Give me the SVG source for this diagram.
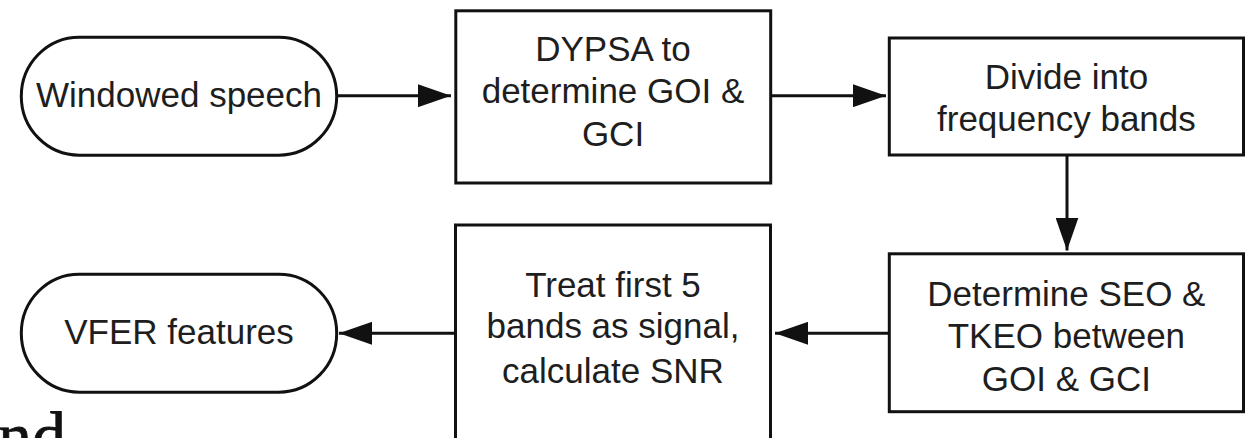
<svg xmlns="http://www.w3.org/2000/svg" width="1250" height="438" viewBox="0 0 1250 438">
  <defs>
    <style>
      .shape { fill: #ffffff; stroke: #111111; stroke-width: 3; }
      .label { font-family: "Liberation Sans", Arial, sans-serif; font-size: 35px; fill: #1e1e1e; text-anchor: middle; }
      .edge { fill: none; stroke: #111111; stroke-width: 3; marker-end: url(#head); }
      .stray { font-family: "Liberation Serif", "Times New Roman", serif; font-size: 68px; fill: #111111; stroke: #111111; stroke-width: 0.8; }
    </style>
    <marker id="head" markerUnits="userSpaceOnUse" markerWidth="34" markerHeight="23" refX="33" refY="11.5" orient="auto">
      <path d="M0,0 L33,11.5 L0,23 Z" fill="#111111"/>
    </marker>
  </defs>

  <rect width="1250" height="438" fill="#ffffff"/>

  <!-- connectors -->
  <g id="connectors">
    <line class="edge" x1="336.7" y1="95.7" x2="451" y2="95.7"/>
    <line class="edge" x1="770.7" y1="95.7" x2="886" y2="95.7"/>
    <line class="edge" x1="1067" y1="155" x2="1067" y2="250.5"/>
    <line class="edge" x1="889.3" y1="333.3" x2="775" y2="333.3"/>
    <line class="edge" x1="455.5" y1="333.3" x2="339" y2="333.3"/>
  </g>

  <!-- start terminal -->
  <g id="windowed-speech">
    <rect class="shape" x="21.3" y="37.2" width="315.4" height="118" rx="58" ry="59"/>
    <text class="label" x="179" y="107">Windowed speech</text>
  </g>

  <!-- glottal instant detection -->
  <g id="dypsa">
    <rect class="shape" x="455.8" y="10.8" width="314.9" height="172.2"/>
    <text class="label" x="613" y="61">DYPSA to</text>
    <text class="label" x="613" y="103">determine GOI &amp;</text>
    <text class="label" x="613" y="145.5">GCI</text>
  </g>

  <!-- filter bank -->
  <g id="divide-bands">
    <rect class="shape" x="889.3" y="38" width="354.2" height="117"/>
    <text class="label" x="1066.4" y="89">Divide into</text>
    <text class="label" x="1066.4" y="131">frequency bands</text>
  </g>

  <!-- energy operators -->
  <g id="seo-tkeo">
    <rect class="shape" x="889.3" y="253.8" width="354.2" height="157.9"/>
    <text class="label" x="1066.4" y="306">Determine SEO &amp;</text>
    <text class="label" x="1066.4" y="348.3">TKEO between</text>
    <text class="label" x="1066.4" y="391">GOI &amp; GCI</text>
  </g>

  <!-- SNR computation -->
  <g id="snr">
    <rect class="shape" x="455.5" y="225" width="315" height="240"/>
    <text class="label" x="613" y="297.3">Treat first 5</text>
    <text class="label" x="613" y="338">bands as signal,</text>
    <text class="label" x="613" y="382.7">calculate SNR</text>
  </g>

  <!-- end terminal -->
  <g id="vfer-features">
    <rect class="shape" x="21.3" y="274.2" width="315.4" height="118" rx="58" ry="59"/>
    <text class="label" x="179" y="343.5">VFER features</text>
  </g>

  <text class="stray" x="-2" y="459">nd</text>
</svg>
